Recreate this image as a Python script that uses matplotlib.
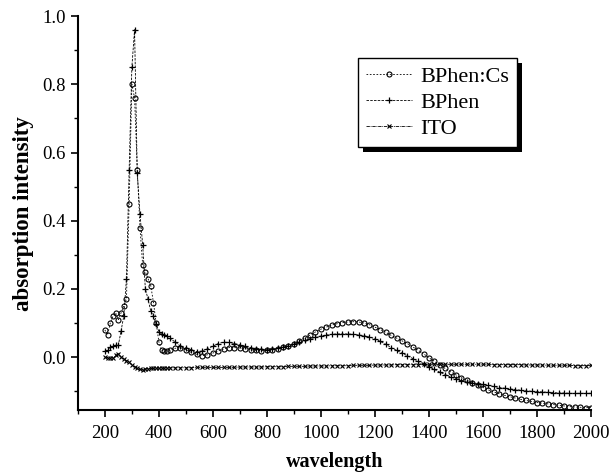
import numpy as np
import matplotlib
matplotlib.use("Agg")
import matplotlib.pyplot as plt
from matplotlib.patches import Rectangle
from matplotlib.transforms import IdentityTransform

plt.rcParams['font.family'] = ['Liberation Serif', 'DejaVu Serif']

# wavelength grid: 10 nm steps in the UV, 20 nm afterwards
wavelength = list(range(200, 450, 10)) + list(range(460, 2001, 20))

bphen_cs = [0.08, 0.065, 0.10, 0.12, 0.13, 0.11, 0.13, 0.15, 0.17, 0.45,
            0.80, 0.76, 0.55, 0.38, 0.27, 0.25, 0.23, 0.21, 0.16, 0.10,
            0.045, 0.02, 0.017, 0.018, 0.022,
            0.026, 0.028, 0.022, 0.014, 0.008, 0.004, 0.007, 0.012, 0.018, 0.024,
            0.028, 0.028, 0.027, 0.025, 0.022, 0.02, 0.019, 0.02, 0.022, 0.025,
            0.03, 0.033, 0.04, 0.048, 0.056, 0.065, 0.074, 0.082, 0.088, 0.094,
            0.098, 0.101, 0.103, 0.104, 0.103, 0.10, 0.095, 0.088, 0.081, 0.073,
            0.064, 0.056, 0.048, 0.04, 0.03, 0.02, 0.01, -0.002, -0.012, -0.022,
            -0.033, -0.043, -0.052, -0.06, -0.068, -0.075, -0.082, -0.089, -0.096, -0.102,
            -0.107, -0.112, -0.116, -0.12, -0.124, -0.127, -0.13, -0.133, -0.135, -0.137,
            -0.139, -0.141, -0.143, -0.145, -0.146, -0.147, -0.148, -0.148]

bphen = [0.018, 0.02, 0.03, 0.032, 0.035, 0.035, 0.077, 0.12, 0.23, 0.55,
         0.85, 0.96, 0.54, 0.42, 0.33, 0.20, 0.17, 0.135, 0.12, 0.097,
         0.075, 0.068, 0.064, 0.062, 0.055,
         0.045, 0.032, 0.027, 0.022, 0.016, 0.018, 0.025, 0.032, 0.04, 0.044,
         0.043, 0.04, 0.036, 0.032, 0.028, 0.025, 0.023, 0.022, 0.023, 0.026,
         0.029, 0.033, 0.038, 0.043, 0.049, 0.054, 0.058, 0.062, 0.065, 0.067,
         0.068, 0.068, 0.068, 0.067, 0.065, 0.063, 0.059, 0.054, 0.046, 0.038,
         0.028, 0.02, 0.012, 0.004, -0.004, -0.012, -0.02, -0.028, -0.036, -0.044,
         -0.051, -0.058, -0.064, -0.069, -0.073, -0.076, -0.078, -0.08, -0.083, -0.086,
         -0.089, -0.091, -0.093, -0.095, -0.097, -0.099, -0.10, -0.101, -0.102, -0.103,
         -0.104, -0.105, -0.105, -0.106, -0.106, -0.106, -0.106, -0.106]

ito = [0.0, -0.002, -0.002, -0.003, 0.005, 0.01, 0.0, -0.005, -0.01, -0.015,
       -0.022, -0.028, -0.033, -0.036, -0.037, -0.035, -0.034, -0.033, -0.033, -0.033,
       -0.032, -0.032, -0.032, -0.032, -0.031,
       -0.031, -0.031, -0.031, -0.031, -0.03, -0.03, -0.03, -0.03, -0.03, -0.03,
       -0.03, -0.03, -0.029, -0.029, -0.029, -0.029, -0.029, -0.028, -0.028, -0.028,
       -0.028, -0.027, -0.027, -0.027, -0.027, -0.026, -0.026, -0.026, -0.026, -0.025,
       -0.025, -0.025, -0.025, -0.024, -0.024, -0.024, -0.024, -0.023, -0.023, -0.023,
       -0.023, -0.022, -0.022, -0.022, -0.022, -0.022, -0.021, -0.021, -0.021, -0.021,
       -0.021, -0.021, -0.021, -0.021, -0.021, -0.021, -0.021, -0.021, -0.021, -0.022,
       -0.022, -0.022, -0.022, -0.022, -0.022, -0.023, -0.023, -0.023, -0.023, -0.024,
       -0.024, -0.024, -0.024, -0.024, -0.025, -0.025, -0.025, -0.024]

labels = ["BPhen:Cs", "BPhen", "ITO"]

fig = plt.figure(figsize=(6.13, 4.74), dpi=100)
ax = fig.add_axes([0.127, 0.135, 0.837, 0.831])

ax.plot(wavelength, bphen_cs, color='black', lw=0.6, ls=(0, (2, 2)),
        marker='o', ms=3.6, mfc='none', mec='black', mew=0.8, label=labels[0])
ax.plot(wavelength, bphen, color='black', lw=0.6, ls=(0, (3, 1.5)),
        marker='+', ms=5, mec='black', mew=0.9, label=labels[1])
ax.plot(wavelength, ito, color='black', lw=0.6, ls=(0, (4, 1, 1, 1)),
        marker='x', ms=3.2, mec='black', mew=0.8, label=labels[2])

ax.set_xlim(100, 2000)
ax.set_ylim(-0.155, 1.0)
ax.set_xticks(range(200, 2001, 200))
ax.set_xticks(range(100, 2001, 100), minor=True)
ax.set_yticks([0.0, 0.2, 0.4, 0.6, 0.8, 1.0])
ax.set_yticks([-0.1, 0.1, 0.3, 0.5, 0.7, 0.9], minor=True)
ax.set_yticklabels(['0.0', '0.2', '0.4', '0.6', '0.8', '1.0'])
ax.tick_params(which='major', direction='out', length=5, width=1.2, labelsize=13.5)
ax.tick_params(axis='x', which='major', pad=6)
ax.tick_params(which='minor', direction='out', length=3, width=1.0)

ax.spines['top'].set_visible(False)
ax.spines['right'].set_visible(False)
ax.spines['left'].set_linewidth(1.5)
ax.spines['bottom'].set_linewidth(1.5)

ax.set_xlabel('wavelength', fontsize=14.5, fontweight='bold', labelpad=7)
ax.set_ylabel('absorption intensity', fontsize=16.5, fontweight='bold', labelpad=6)

leg = ax.legend(loc='upper left', bbox_to_anchor=(0.546, 0.893), fontsize=16,
                frameon=True, fancybox=False, edgecolor='black', framealpha=1,
                handlelength=2.1, borderpad=0.35, labelspacing=0.25,
                handletextpad=0.35, borderaxespad=0)
leg.get_frame().set_linewidth(1.0)

# solid black drop shadow behind the legend, offset right and down
fig.canvas.draw()
bb = leg.get_window_extent()
shadow = Rectangle((bb.x0 + 5, bb.y0 - 5), bb.width, bb.height,
                   transform=IdentityTransform(), facecolor='black',
                   edgecolor='none', clip_on=False, zorder=leg.get_zorder() - 0.1)
ax.add_artist(shadow)

fig.savefig('out.png', dpi=100)
